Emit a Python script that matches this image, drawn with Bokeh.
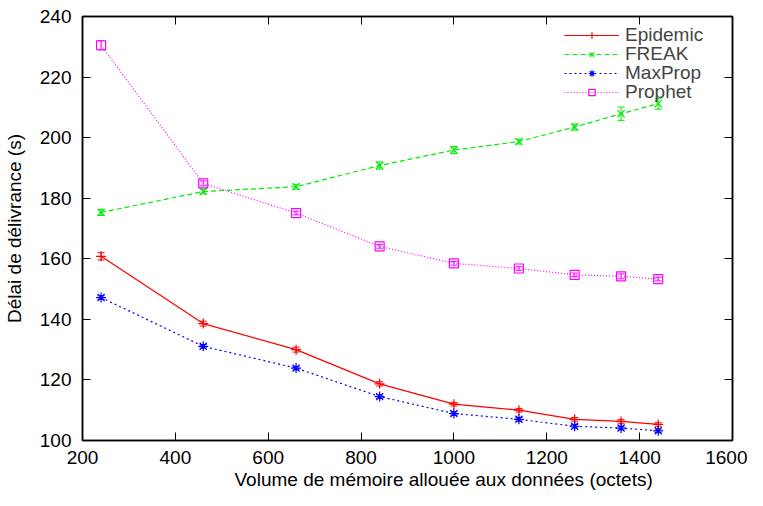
from bokeh.plotting import figure
from bokeh.models import (ColumnDataSource, Whisker, TeeHead, LinearAxis, FixedTicker,
                          Legend, LegendItem, Range1d, CustomLabelingPolicy, Title)
from bokeh.embed import file_html
from bokeh.resources import INLINE

# ---- data ----
memory = [240, 460, 660, 840, 1000, 1140, 1260, 1360, 1440]

epidemic = [160.8, 138.6, 130.0, 118.7, 112.0, 110.0, 107.0, 106.3, 105.3]
epidemic_err = [1.2, 0.8, 0.8, 0.7, 0.6, 0.6, 0.6, 0.6, 0.6]

freak = [175.3, 182.2, 183.8, 190.8, 195.9, 198.7, 203.5, 207.9, 211.2]
freak_err = [1.0, 0.8, 0.8, 1.2, 1.2, 0.8, 1.0, 2.2, 1.8]

maxprop = [147.2, 131.1, 123.9, 114.5, 108.9, 107.0, 104.7, 104.1, 103.2]
maxprop_err = [0.6, 0.6, 0.6, 0.6, 0.6, 0.6, 0.6, 0.6, 0.6]

prophet = [230.5, 184.9, 175.1, 164.1, 158.5, 156.8, 154.7, 154.2, 153.3]
prophet_err = [1.5, 0.8, 0.6, 0.6, 0.6, 0.6, 0.6, 0.8, 0.6]

x_ticks = [200, 400, 600, 800, 1000, 1200, 1400, 1600]
y_ticks = [100, 120, 140, 160, 180, 200, 220, 240]

x_label = "Volume de mémoire allouée aux données (octets)"
y_label = "Délai de délivrance (s)"

series = [
    ("Epidemic", epidemic, epidemic_err, "#ff0000", "solid", "cross"),
    ("FREAK", freak, freak_err, "#00ee00", "5 3", "x"),
    ("MaxProp", maxprop, maxprop_err, "#0000ff", "2 3", "asterisk"),
    ("Prophet", prophet, prophet_err, "#ff00ff", "1 2", "square"),
]

FONT = "Liberation Sans"

p = figure(width=747, height=490, output_backend="svg", toolbar_location=None,
           x_range=Range1d(200, 1600), y_range=Range1d(100, 240),
           min_border_left=80, min_border_right=15, min_border_top=8, min_border_bottom=50)

p.xgrid.visible = False
p.ygrid.visible = False
p.outline_line_color = "black"
p.outline_line_width = 1.5
p.background_fill_color = "white"
p.border_fill_color = "white"

# one legend box per series, stacked with a tight row pitch
ROW_PITCH = 19
FIRST_ROW_BOTTOM = 394   # px above the frame's bottom edge
for i, (name, vals, errs, color, dash, marker) in enumerate(series):
    src = ColumnDataSource(dict(x=memory, y=vals,
                                lo=[v - e for v, e in zip(vals, errs)],
                                hi=[v + e for v, e in zip(vals, errs)]))
    ln = p.line("x", "y", source=src, line_color=color, line_width=1.2, line_dash=dash)
    if marker == "square":
        mk = p.scatter("x", "y", source=src, marker=marker, size=9, line_color=color,
                       fill_color=None, line_width=1.2)
    else:
        mk = p.scatter("x", "y", source=src, marker=marker, size=10, line_color=color,
                       line_width=1.2)
    w = Whisker(source=src, base="x", lower="lo", upper="hi", dimension="height",
                line_color=color, line_width=1,
                upper_head=TeeHead(size=7, line_color=color, line_width=1),
                lower_head=TeeHead(size=7, line_color=color, line_width=1))
    p.add_layout(w)
    lg = Legend(items=[LegendItem(label=name, renderers=[ln, mk])],
                location=(482, FIRST_ROW_BOTTOM - i * ROW_PITCH),
                border_line_color=None, background_fill_alpha=0.0,
                label_text_font=FONT, label_text_font_size="19px",
                glyph_width=55, glyph_height=16, label_height=16,
                spacing=0, padding=0, margin=0, label_standoff=6)
    p.add_layout(lg)

no_labels = CustomLabelingPolicy(code="return new Set()")

def style_axis(ax, ticks, label_size, hide_labels=False):
    ax.ticker = FixedTicker(ticks=ticks)
    ax.axis_line_color = "black"
    ax.axis_line_width = 1.5
    ax.major_tick_in = 8
    ax.major_tick_out = 0
    ax.minor_tick_line_color = None
    ax.major_tick_line_color = "black"
    ax.major_tick_line_width = 1
    ax.major_label_text_font = FONT
    ax.major_label_text_color = "black"
    ax.major_label_text_font_size = label_size
    if hide_labels:
        ax.major_label_policy = no_labels
        ax.major_label_standoff = 0

xa = p.xaxis[0]
ya = p.yaxis[0]
style_axis(xa, x_ticks, "19px")
style_axis(ya, y_ticks, "19px")
xa.major_label_standoff = 10
ya.major_label_standoff = 11
ya.axis_label = y_label
ya.axis_label_text_font = FONT
ya.axis_label_text_font_size = "19px"
ya.axis_label_text_font_style = "normal"
ya.axis_label_text_color = "black"
ya.axis_label_standoff = 12

# x axis title as a below-panel title (keeps the reserved space tight)
xt = Title(text=x_label, align="left", offset=152, standoff=0,
           text_font=FONT, text_font_size="19px", text_font_style="normal",
           text_color="black")
p.add_layout(xt, "below")

top = LinearAxis()
right = LinearAxis()
p.add_layout(top, "above")
p.add_layout(right, "right")
style_axis(top, x_ticks, "19px", hide_labels=True)
style_axis(right, y_ticks, "1px", hide_labels=True)

open("out.html", "w").write(file_html(p, INLINE))
